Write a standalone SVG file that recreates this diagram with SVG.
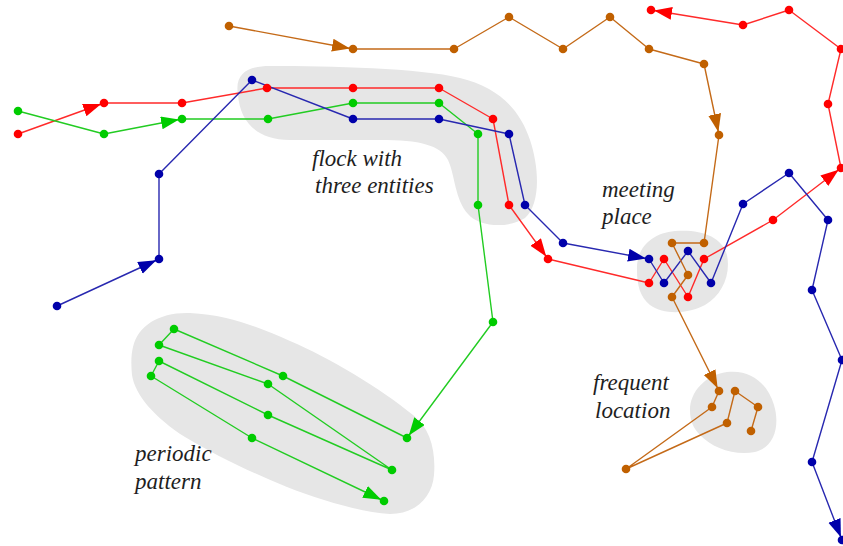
<svg xmlns="http://www.w3.org/2000/svg" width="843" height="546" viewBox="0 0 843 546">
  <style>
    .region { fill: #e6e6e6; stroke: none; }
    .trk { fill: none; stroke-width: 1.4; stroke-linejoin: round; stroke-linecap: round; }
    .red .trk { stroke: #ff2a2a; }
    .red circle { fill: #ff0000; }
    .green .trk { stroke: #22cc22; }
    .green circle { fill: #00cc00; }
    .blue .trk { stroke: #2828b0; }
    .blue circle { fill: #0000aa; }
    .brown .trk { stroke: #c46a18; }
    .brown circle { fill: #c06000; }
    circle { r: 4.3px; }
    .label { font-family: "Liberation Serif", "DejaVu Serif", serif; font-style: italic; font-size: 23px; fill: #1e1e1e; }
  </style>
  <defs>
    <marker id="arr-red" markerUnits="userSpaceOnUse" markerWidth="24" markerHeight="14" refX="21" refY="6.5" orient="auto"><path d="M0,0 L18,6.5 L0,13 z" fill="#ff0000"/></marker>
    <marker id="arr-green" markerUnits="userSpaceOnUse" markerWidth="24" markerHeight="14" refX="21" refY="6.5" orient="auto"><path d="M0,0 L18,6.5 L0,13 z" fill="#00cc00"/></marker>
    <marker id="arr-blue" markerUnits="userSpaceOnUse" markerWidth="24" markerHeight="14" refX="21" refY="6.5" orient="auto"><path d="M0,0 L18,6.5 L0,13 z" fill="#0000aa"/></marker>
    <marker id="arr-brown" markerUnits="userSpaceOnUse" markerWidth="24" markerHeight="14" refX="21" refY="6.5" orient="auto"><path d="M0,0 L18,6.5 L0,13 z" fill="#c06000"/></marker>
  </defs>

  <!-- shaded pattern regions -->
  <g id="regions">
    <path id="flock-region" class="region" d="M238,95 C234,72 250,66 270,66 C330,66 420,68 460,78 C500,88 520,110 530,140 C540,170 540,205 525,218 C510,228 480,228 468,214 C455,200 455,175 448,160 C440,145 420,140 380,140 L290,140 C255,140 240,120 238,95 Z"/>
    <path id="periodic-region" class="region" d="M133,347 C138,325 160,312 190,313 C230,315 260,328 290,341 C330,358 380,388 413,415 C430,428 436,450 434,475 C432,498 415,514 390,514 C360,512 320,500 287,487 C250,472 215,455 185,437 C155,418 135,395 132,375 C131,365 131,355 133,347 Z"/>
    <path id="meeting-region" class="region" d="M637,270 C636,248 652,233 675,231 C700,229 722,236 727,255 C731,275 722,295 705,305 C690,313 665,316 650,305 C640,297 637,285 637,270 Z"/>
    <path id="frequent-region" class="region" d="M690,410 C690,392 705,375 727,372 C752,369 768,385 774,405 C780,425 775,447 755,452 C735,456 712,448 700,435 C693,428 690,420 690,410 Z"/>
  </g>

  <!-- trajectories -->
  <g id="connectors">
    <g id="track-red" class="red">
      <polyline class="trk" points="18,134 104,103" marker-end="url(#arr-red)"/>
      <polyline class="trk" points="104,103 182,103 267,88 353,88 439,88 493,119 509,205 548,259" marker-end="url(#arr-red)"/>
      <polyline class="trk" points="548,259 649,283 664,259 688,297 704,259 773,220 841,168" marker-end="url(#arr-red)"/>
      <polyline class="trk" points="841,168 828,104 841,49 789,10 743,25 651,10" marker-end="url(#arr-red)"/>
    </g>
    <g id="track-green" class="green">
      <polyline class="trk" points="18,111 104,134 182,119" marker-end="url(#arr-green)"/>
      <polyline class="trk" points="182,119 268,119 353,103 439,103 478,134 478,205 493,322 407,438" marker-end="url(#arr-green)"/>
      <polyline class="trk" points="407,438 283,376 174,329 159,345 268,384 392,470 268,415 159,361 151,376 252,438 384,501" marker-end="url(#arr-green)"/>
    </g>
    <g id="track-blue" class="blue">
      <polyline class="trk" points="57,306 159,259" marker-end="url(#arr-blue)"/>
      <polyline class="trk" points="159,259 159,174 252,80 353,119 439,119 509,134 525,205 563,243 649,259" marker-end="url(#arr-blue)"/>
      <polyline class="trk" points="649,259 664,283 688,251 711,283 743,204 789,173 828,220 812,290 842,360 812,462 842,540" marker-end="url(#arr-blue)"/>
    </g>
    <g id="track-brown" class="brown">
      <polyline class="trk" points="229,26 353,49" marker-end="url(#arr-brown)"/>
      <polyline class="trk" points="353,49 454,49 509,17 563,49 610,17 649,49 704,64 719,135" marker-end="url(#arr-brown)"/>
      <polyline class="trk" points="719,135 704,243 672,243 688,275 672,297 719,391" marker-end="url(#arr-brown)"/>
      <polyline class="trk" points="719,391 712,407 626,469 727,423 735,391 758,407 751,431"/>
    </g>
  </g>

  <!-- sample points -->
  <g id="points-red" class="red">
    <circle cx="18" cy="134" r="4.3"/><circle cx="104" cy="103" r="4.3"/><circle cx="182" cy="103" r="4.3"/>
    <circle cx="267" cy="88" r="4.3"/><circle cx="353" cy="88" r="4.3"/><circle cx="439" cy="88" r="4.3"/>
    <circle cx="493" cy="119" r="4.3"/><circle cx="509" cy="205" r="4.3"/><circle cx="548" cy="259" r="4.3"/>
    <circle cx="649" cy="283" r="4.3"/><circle cx="664" cy="259" r="4.3"/><circle cx="688" cy="297" r="4.3"/>
    <circle cx="704" cy="259" r="4.3"/><circle cx="773" cy="220" r="4.3"/><circle cx="841" cy="168" r="4.3"/>
    <circle cx="828" cy="104" r="4.3"/><circle cx="841" cy="49" r="4.3"/><circle cx="789" cy="10" r="4.3"/>
    <circle cx="743" cy="25" r="4.3"/><circle cx="651" cy="10" r="4.3"/>
  </g>
  <g id="points-green" class="green">
    <circle cx="18" cy="111" r="4.3"/><circle cx="104" cy="134" r="4.3"/><circle cx="182" cy="119" r="4.3"/>
    <circle cx="268" cy="119" r="4.3"/><circle cx="353" cy="103" r="4.3"/><circle cx="439" cy="103" r="4.3"/>
    <circle cx="478" cy="134" r="4.3"/><circle cx="478" cy="205" r="4.3"/><circle cx="493" cy="322" r="4.3"/>
    <circle cx="407" cy="438" r="4.3"/><circle cx="283" cy="376" r="4.3"/><circle cx="174" cy="329" r="4.3"/>
    <circle cx="159" cy="345" r="4.3"/><circle cx="268" cy="384" r="4.3"/><circle cx="392" cy="470" r="4.3"/>
    <circle cx="268" cy="415" r="4.3"/><circle cx="159" cy="361" r="4.3"/><circle cx="151" cy="376" r="4.3"/>
    <circle cx="252" cy="438" r="4.3"/><circle cx="384" cy="501" r="4.3"/>
  </g>
  <g id="points-blue" class="blue">
    <circle cx="57" cy="306" r="4.3"/><circle cx="159" cy="259" r="4.3"/><circle cx="159" cy="174" r="4.3"/>
    <circle cx="252" cy="80" r="4.3"/><circle cx="353" cy="119" r="4.3"/><circle cx="439" cy="119" r="4.3"/>
    <circle cx="509" cy="134" r="4.3"/><circle cx="525" cy="205" r="4.3"/><circle cx="563" cy="243" r="4.3"/>
    <circle cx="649" cy="259" r="4.3"/><circle cx="664" cy="283" r="4.3"/><circle cx="688" cy="251" r="4.3"/>
    <circle cx="711" cy="283" r="4.3"/><circle cx="743" cy="204" r="4.3"/><circle cx="789" cy="173" r="4.3"/>
    <circle cx="828" cy="220" r="4.3"/><circle cx="812" cy="290" r="4.3"/><circle cx="842" cy="360" r="4.3"/>
    <circle cx="812" cy="462" r="4.3"/><circle cx="842" cy="540" r="4.3"/>
  </g>
  <g id="points-brown" class="brown">
    <circle cx="229" cy="26" r="4.3"/><circle cx="353" cy="49" r="4.3"/><circle cx="454" cy="49" r="4.3"/>
    <circle cx="509" cy="17" r="4.3"/><circle cx="563" cy="49" r="4.3"/><circle cx="610" cy="17" r="4.3"/>
    <circle cx="649" cy="49" r="4.3"/><circle cx="704" cy="64" r="4.3"/><circle cx="719" cy="135" r="4.3"/>
    <circle cx="704" cy="243" r="4.3"/><circle cx="672" cy="243" r="4.3"/><circle cx="688" cy="275" r="4.3"/>
    <circle cx="672" cy="297" r="4.3"/><circle cx="719" cy="391" r="4.3"/><circle cx="712" cy="407" r="4.3"/>
    <circle cx="626" cy="469" r="4.3"/><circle cx="727" cy="423" r="4.3"/><circle cx="735" cy="391" r="4.3"/>
    <circle cx="758" cy="407" r="4.3"/><circle cx="751" cy="431" r="4.3"/>
  </g>

  <!-- region labels -->
  <g id="label-flock">
    <text class="label" x="312" y="166">flock with</text>
    <text class="label" x="315" y="193">three entities</text>
  </g>
  <g id="label-meeting">
    <text class="label" x="602" y="197">meeting</text>
    <text class="label" x="602" y="224">place</text>
  </g>
  <g id="label-frequent">
    <text class="label" x="593" y="390">frequent</text>
    <text class="label" x="595" y="418">location</text>
  </g>
  <g id="label-periodic">
    <text class="label" x="135" y="461">periodic</text>
    <text class="label" x="135" y="489">pattern</text>
  </g>
</svg>
